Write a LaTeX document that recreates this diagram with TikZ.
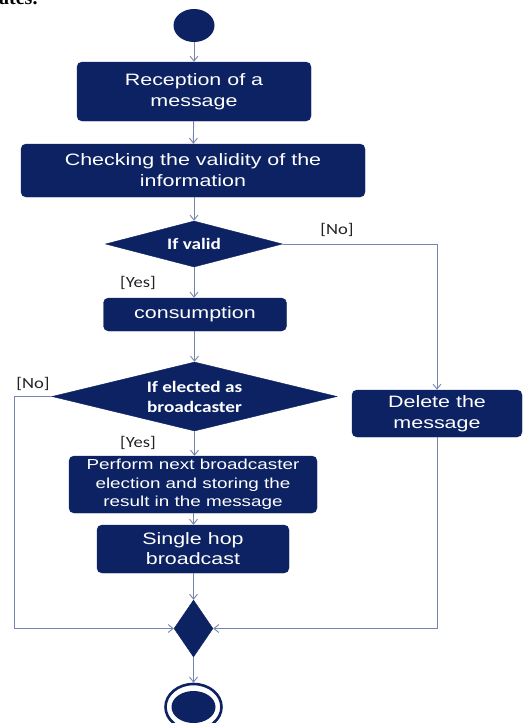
\documentclass[tikz,border=0pt]{standalone}
\usepackage{fontspec}
\usetikzlibrary{shapes.geometric,arrows.meta}
\newfontfamily\bxfont[FakeStretch=1.3]{Liberation Sans}
\newfontfamily\lbfont[FakeStretch=1.2]{Carlito}
\newfontfamily\serfont{Liberation Serif}
\definecolor{navy}{RGB}{12,34,98}
\definecolor{lnc}{RGB}{118,133,170}
\definecolor{lbl}{RGB}{35,35,35}
\tikzset{
  actbox/.style={draw=navy, fill=navy, rounded corners=5pt, inner sep=0pt, align=center, text=white,
    font=\bxfont\fontsize{16.5}{21}\selectfont},
  decbox/.style={shape=diamond, draw=navy, fill=navy, inner sep=0pt, align=center, text=white,
    font=\lbfont\bfseries\fontsize{16}{20}\selectfont},
  guard/.style={text=lbl, inner sep=0pt, font=\lbfont\fontsize{15.5}{18}\selectfont},
  flow/.style={draw=lnc, line width=0.9pt, -{Straight Barb[length=5pt,width=8pt]}}
}
\begin{document}
\begin{tikzpicture}[x=1pt,y=-1pt]
\useasboundingbox (0,0) rectangle (529,723);
\clip (0,0) rectangle (529,723);
\fill[white] (0,0) rectangle (529,723);
\node[anchor=base west, inner sep=0pt, font=\serfont\bfseries\fontsize{20}{24}\selectfont] (frag) at (-1,4) {ates.};
% nodes
\node[ellipse, fill=navy, minimum width=41pt, minimum height=33pt, inner sep=0pt] (start) at (194,25.5) {};
\node[actbox, minimum width=234pt, minimum height=59pt] (rec) at (194,91.5) {Reception of a\\message};
\node[actbox, minimum width=344pt, minimum height=53pt] (chk) at (193,170.5) {Checking the validity of the\\information};
\node[decbox, minimum width=177pt, minimum height=46pt, aspect=3.85] (valid) at (194,244) {If valid};
\node[actbox, minimum width=183pt, minimum height=33pt] (cons) at (195,314.5) {consumption};
\node[decbox, minimum width=285pt, minimum height=69pt, aspect=4.13] (elect) at (194.5,396.5) {If elected as\\broadcaster};
\node[actbox, minimum width=248pt, minimum height=57pt, font=\bxfont\fontsize{14.5}{18.3}\selectfont] (perf) at (193,484.5) {Perform next broadcaster\\election and storing the\\result in the message};
\node[actbox, minimum width=192pt, minimum height=48pt, font=\bxfont\fontsize{16.5}{20}\selectfont] (single) at (193,549) {Single hop\\broadcast};
\node[actbox, minimum width=170pt, minimum height=47pt] (del) at (437,413.5) {Delete the\\message};
\node[decbox, minimum width=39pt, minimum height=57pt, aspect=0.68] (merge) at (193.5,628.5) {};
\node[ellipse, draw=navy, line width=2.6pt, fill=white, minimum width=56pt, minimum height=46pt, inner sep=0pt] (endo) at (193.5,707) {};
\node[ellipse, fill=navy, minimum width=44pt, minimum height=32pt, inner sep=0pt] (endi) at (193.5,707) {};
% guards
\node[guard] (gno1) at (337,230) {[No]};
\node[guard] (gyes1) at (138,283) {[Yes]};
\node[guard] (gno2) at (33,384) {[No]};
\node[guard] (gyes2) at (138,443) {[Yes]};
\coordinate (lc) at (14,396.5);
% connectors
\draw[flow] (start) -- (rec);
\draw[flow] (rec) -- (chk);
\draw[flow] (chk.south -| valid.north) -- (valid.north);
\draw[flow] (valid) -- (valid.south |- cons.north);
\draw[flow] (valid.east) -| (del.north);
\draw[flow] (cons.south -| elect.north) -- (elect.north);
\draw[flow] (elect.south) -- (elect.south |- perf.north);
\draw[flow] (perf.south -| merge.north) -- (merge.north |- single.north);
\draw[flow] (single.south -| merge.north) -- (merge.north);
\draw[flow] (elect.west) -- (lc) |- (merge.west);
\draw[flow] (del.south) |- (merge.east);
\draw[flow] (merge.south) -- (endo.north);
\end{tikzpicture}
\end{document}
